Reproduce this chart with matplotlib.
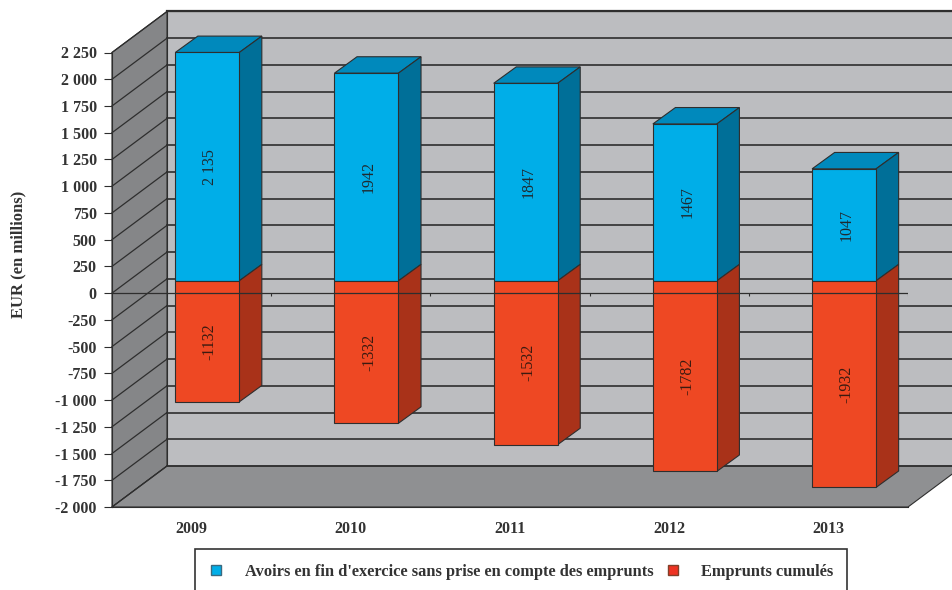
import matplotlib
matplotlib.use('Agg')
import matplotlib.pyplot as plt
from matplotlib.lines import Line2D
from matplotlib.patches import Polygon, Rectangle

plt.rcParams['font.family'] = ['Liberation Serif', 'DejaVu Serif']

years = ['2009', '2010', '2011', '2012', '2013']
avoirs = [2135, 1942, 1847, 1467, 1047]
emprunts = [-1132, -1332, -1532, -1782, -1932]
avoirs_labels = ['2 135', '1942', '1847', '1467', '1047']
emprunts_labels = ['-1132', '-1332', '-1532', '-1782', '-1932']
yticks = list(range(-2000, 2251, 250))
ytick_labels = ['-2 000', '-1 750', '-1 500', '-1 250', '-1 000', '-750', '-500', '-250', '0',
                '250', '500', '750', '1 000', '1 250', '1 500', '1 750', '2 000', '2 250']
legend_labels = ["Avoirs en fin d'exercice sans prise en compte des emprunts", 'Emprunts cumulés']

W, H = 953, 590
fig = plt.figure(figsize=(W / 100, H / 100), dpi=100)
ax = fig.add_axes([112 / W, 1 - 507 / H, 796 / W, 454.5 / H])
ax.set_xlim(0, 5)
ax.set_ylim(-2000, 2250)
ax.patch.set_visible(False)

# depth of the fake 3d box, in data units
depth_x = 55 / 159.2
depth_y = 41 / 0.10694
bar_width = 0.402
front_x = 0.285
front_y = 0.3
side_x = 0.41
side_y = 0.4
label_shift = 0.016

ink = '#2e2e2e'
wall_back = '#bcbdc0'
wall_left = '#858688'
floor = '#8f9092'


def poly(pts, color, z, lw=0.8):
    ax.add_patch(Polygon(pts, closed=True, facecolor=color, edgecolor=ink, linewidth=lw,
                         zorder=z, clip_on=False))


# walls and floor
poly([(depth_x, -2000 + depth_y), (5 + depth_x, -2000 + depth_y), (5 + depth_x, 2250 + depth_y),
      (depth_x, 2250 + depth_y)], wall_back, 1)
poly([(0, -2000), (depth_x, -2000 + depth_y), (depth_x, 2250 + depth_y), (0, 2250)], wall_left, 1)
poly([(0, -2000), (5, -2000), (5 + depth_x, -2000 + depth_y), (depth_x, -2000 + depth_y)], floor, 1)

# gridlines, back wall then the slanted part on the left wall
for v in yticks:
    ax.plot([depth_x, 5 + depth_x], [v + depth_y, v + depth_y], color=ink, lw=1.2, zorder=2, clip_on=False)
    ax.plot([0, depth_x], [v, v + depth_y], color=ink, lw=0.9, zorder=2, clip_on=False)
ax.plot([depth_x, 5 + depth_x], [2250 + depth_y, 2250 + depth_y], color=ink, lw=1.6, zorder=2, clip_on=False)


def bar3d(i, value, face, side, top):
    left = i + 0.5 - bar_width / 2 + front_x * depth_x
    right = left + bar_width
    base = front_y * depth_y
    off_x = side_x * depth_x
    off_y = side_y * depth_y
    end = base + value
    if value > 0:
        poly([(left, end), (left + off_x, end + off_y), (right + off_x, end + off_y), (right, end)], top, 3)
    poly([(right, base), (right + off_x, base + off_y), (right + off_x, end + off_y), (right, end)], side, 3)
    poly([(left, base), (right, base), (right, end), (left, end)], face, 4)
    return (left + right) / 2, base + value / 2


for i in range(len(years)):
    x, y = bar3d(i, avoirs[i], '#00aee8', '#006f98', '#0089bc')
    ax.text(x + label_shift, y, avoirs_labels[i], rotation=90, ha='center', va='center', fontsize=11.5,
            color='#1f2a30', zorder=6)
    x, y = bar3d(i, emprunts[i], '#ee4823', '#a93219', '#a93219')
    ax.text(x + label_shift, y, emprunts_labels[i], rotation=90, ha='center', va='center', fontsize=11.5,
            color='#3a1a10', zorder=6)

# zero line and its little ticks at the slot limits
ax.axhline(0, color=ink, lw=0.9, zorder=5)
ax.vlines(range(1, 6), -30, 0, color=ink, lw=0.8, zorder=5)

for name in ['top', 'right']:
    ax.spines[name].set_visible(False)
for name in ['left', 'bottom']:
    ax.spines[name].set_color(ink)
    ax.spines[name].set_zorder(5)

ax.set_yticks(yticks)
ax.set_yticklabels(ytick_labels)
ax.set_xticks([i + 0.5 for i in range(len(years))])
ax.set_xticklabels(years)
ax.tick_params(axis='y', length=6, width=0.8, color=ink, pad=5, labelsize=11.5, labelcolor='#333333')
ax.tick_params(axis='x', length=0, pad=10, labelsize=11.5, labelcolor='#333333')
for t in ax.get_xticklabels() + ax.get_yticklabels():
    t.set_fontweight('bold')

fig.text(18 / W, 1 - 254 / H, 'EUR (en millions)', rotation=90, ha='center', va='center',
         fontsize=12, fontweight='bold', color='#333333')

# legend box runs off the bottom of the picture
fig.add_artist(Rectangle((195 / W, -10 / H), 652 / W, (H + 10 - 549) / H, transform=fig.transFigure,
                         facecolor='white', edgecolor='#333333', linewidth=1.2))
handles = [Line2D([], [], ls='none', marker='s', ms=6.5, mfc='#00aee8', mec='#3a6a80'),
           Line2D([], [], ls='none', marker='s', ms=6.5, mfc='#ee3323', mec='#80402a')]
fig.legend(handles, legend_labels, ncol=2, frameon=False, loc='center left',
           bbox_to_anchor=(200 / W, 1 - 572 / H), borderaxespad=0, borderpad=0,
           handletextpad=0.73, columnspacing=0.2, labelcolor='#333333',
           prop={'weight': 'bold', 'size': 11.8})

fig.savefig('out.png', dpi=100)
